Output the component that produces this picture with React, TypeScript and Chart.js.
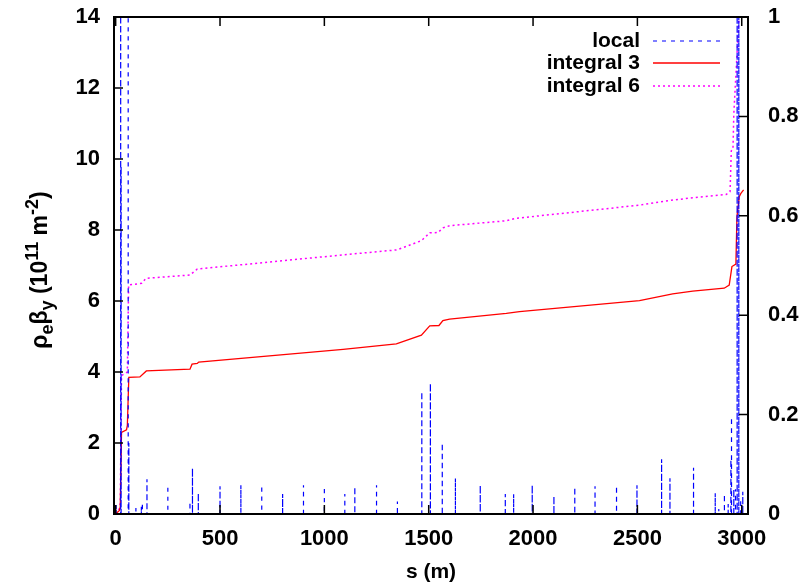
import React, { useEffect, useRef } from "react";
import { Chart, registerables } from "chart.js";

Chart.register(...registerables);

// ---- data ----
const xTicks = [0, 500, 1000, 1500, 2000, 2500, 3000];
const yTicks = [0, 2, 4, 6, 8, 10, 12, 14];
const y2Ticks = [0, 0.2, 0.4, 0.6, 0.8, 1];

// local (right axis), impulses
const localS = [2, 24, 26, 60, 63, 97, 123, 128, 150, 250, 356, 368, 396, 500, 600, 700, 800, 900, 1000, 1098, 1146, 1250, 1350, 1467, 1508, 1565, 1628, 1747, 1867, 1907, 1996, 2100, 2200, 2297, 2400, 2498, 2616, 2656, 2769, 2873, 2890, 2917, 2935, 2948, 2951, 2962, 2970, 2978, 2986, 2995, 3005];
const localV = [0.018, 1.6, 0.7, 1.6, 0.143, 0.012, 0.015, 0.023, 0.07, 0.058, 0.025, 0.092, 0.042, 0.056, 0.058, 0.058, 0.04, 0.058, 0.055, 0.04, 0.055, 0.058, 0.025, 0.246, 0.263, 0.143, 0.072, 0.058, 0.04, 0.04, 0.058, 0.036, 0.054, 0.056, 0.057, 0.058, 0.11, 0.072, 0.093, 0.042, 0.01, 0.04, 0.02, 0.11, 0.195, 0.05, 0.05, 1.6, 1.6, 0.03, 0.045];

// integral 3 (left axis)
const int3S = [0, 18, 22, 28, 52, 56, 63, 116, 147, 356, 366, 391, 398, 1090, 1345, 1465, 1505, 1549, 1568, 1600, 1872, 1935, 2510, 2669, 2765, 2916, 2940, 2953, 2972, 2977, 2988, 2996, 3009];
const int3V = [0, 0.1, 0.2, 2.3, 2.37, 2.5, 3.85, 3.86, 4.03, 4.08, 4.22, 4.24, 4.28, 4.64, 4.79, 5.04, 5.3, 5.31, 5.45, 5.49, 5.65, 5.7, 6.01, 6.2, 6.28, 6.36, 6.45, 6.97, 7.04, 8.37, 8.94, 9.03, 9.13];

// integral 6 (left axis)
const int6S = [0, 18, 22, 28, 56, 62, 125, 146, 356, 391, 1090, 1348, 1465, 1505, 1545, 1568, 1600, 1872, 1920, 2510, 2653, 2765, 2925, 2944, 2950, 2958, 2962, 2975, 2986, 2995, 3009];
const int6V = [0, 0.15, 0.3, 3.9, 4.0, 6.45, 6.5, 6.64, 6.73, 6.9, 7.3, 7.44, 7.7, 7.92, 7.93, 8.06, 8.12, 8.26, 8.33, 8.7, 8.83, 8.91, 9.0, 9.08, 10.23, 10.28, 11.27, 12.7, 13.9, 14.8, 15.5];

const seriesNames = ["local", "integral 3", "integral 6"];

const FONT = "'Liberation Sans', Arial, Helvetica, sans-serif";
const BLUE = "#0000ff";
const RED = "#ff0000";
const MAGENTA = "#ff00ff";

const localDash = [4, 5];
const int6Dash = [2, 3];

const framePlugin = {
  id: "frame",
  afterDatasetsDraw(chart: any) {
    const { ctx, chartArea: a, scales } = chart;
    ctx.save();
    ctx.strokeStyle = "#000";
    ctx.lineWidth = 1.5;
    const L = 9;
    ctx.beginPath();
    for (const v of xTicks) {
      const px = scales.x.getPixelForValue(v);
      ctx.moveTo(px, a.bottom);
      ctx.lineTo(px, a.bottom - L);
      ctx.moveTo(px, a.top);
      ctx.lineTo(px, a.top + L);
    }
    for (const v of yTicks) {
      const py = scales.y.getPixelForValue(v);
      ctx.moveTo(a.left, py);
      ctx.lineTo(a.left + L, py);
    }
    for (const v of y2Ticks) {
      const py = scales.y2.getPixelForValue(v);
      ctx.moveTo(a.right, py);
      ctx.lineTo(a.right - L, py);
    }
    ctx.stroke();
    ctx.lineWidth = 2;
    ctx.strokeRect(a.left, a.top, a.right - a.left, a.bottom - a.top);
    ctx.restore();
  },
};

const textPlugin = {
  id: "texts",
  afterDraw(chart: any) {
    const { ctx, chartArea: a } = chart;
    ctx.save();
    // legend
    const styles = [
      { color: BLUE, dash: localDash, width: 1.2 },
      { color: RED, dash: [], width: 1.3 },
      { color: MAGENTA, dash: int6Dash, width: 1.5 },
    ];
    const rows = [41, 63, 86];
    ctx.font = `bold 21px ${FONT}`;
    ctx.fillStyle = "#000";
    ctx.textAlign = "right";
    ctx.textBaseline = "middle";
    seriesNames.forEach((n, i) => {
      ctx.fillText(n, 640, rows[i]);
      ctx.save();
      ctx.strokeStyle = styles[i].color;
      ctx.lineWidth = styles[i].width;
      ctx.setLineDash(styles[i].dash);
      ctx.beginPath();
      ctx.moveTo(653, rows[i]);
      ctx.lineTo(720, rows[i]);
      ctx.stroke();
      ctx.restore();
    });

    // x title
    ctx.textAlign = "center";
    ctx.fillText("s (m)", (a.left + a.right) / 2, 572);

    // y title with sub/superscripts
    const parts = [
      { t: "\u03c1", s: 1, dy: 0 },
      { t: "e", s: 0.8, dy: 6 },
      { t: "\u03b2", s: 1, dy: 0 },
      { t: "y", s: 0.8, dy: 6 },
      { t: " (10", s: 1, dy: 0 },
      { t: "11", s: 0.8, dy: -9 },
      { t: " m", s: 1, dy: 0 },
      { t: "-2", s: 0.8, dy: -9 },
      { t: ")", s: 1, dy: 0 },
    ];
    const base = 23;
    let total = 0;
    const widths = parts.map((p) => {
      ctx.font = `bold ${Math.round(base * p.s)}px ${FONT}`;
      const w = ctx.measureText(p.t).width;
      total += w;
      return w;
    });
    ctx.translate(40, 270);
    ctx.rotate(-Math.PI / 2);
    ctx.textAlign = "left";
    ctx.textBaseline = "alphabetic";
    let x = -total / 2;
    parts.forEach((p, i) => {
      ctx.font = `bold ${Math.round(base * p.s)}px ${FONT}`;
      ctx.fillText(p.t, x, 7 + p.dy);
      x += widths[i];
    });
    ctx.restore();
  },
};

const zeroPad = (s: any) => {
  s.paddingTop = 0;
  s.paddingBottom = 0;
  s.paddingLeft = 0;
  s.paddingRight = 0;
};

export default function App() {
  const ref = useRef<HTMLCanvasElement | null>(null);

  useEffect(() => {
    if (!ref.current) return;
    const localData: { x: number; y: number }[] = [];
    localS.forEach((s, i) => {
      localData.push({ x: s, y: 0 }, { x: s, y: localV[i] }, { x: s, y: 0 });
    });
    const int3Data = int3S.map((s, i) => ({ x: s, y: int3V[i] }));
    const int6Data = int6S.map((s, i) => ({ x: s, y: int6V[i] }));

    const tickFont = { family: FONT, size: 22, weight: "bold" as const };

    const chart = new Chart(ref.current, {
      type: "scatter",
      data: {
        datasets: [
          {
            label: seriesNames[0],
            data: localData,
            yAxisID: "y2",
            showLine: true,
            borderColor: BLUE,
            borderWidth: 1.2,
            borderDash: localDash,
            pointRadius: 0,
            tension: 0,
          },
          {
            label: seriesNames[1],
            data: int3Data,
            yAxisID: "y",
            showLine: true,
            borderColor: RED,
            borderWidth: 1.3,
            pointRadius: 0,
            tension: 0,
          },
          {
            label: seriesNames[2],
            data: int6Data,
            yAxisID: "y",
            showLine: true,
            borderColor: MAGENTA,
            borderWidth: 1.5,
            borderDash: int6Dash,
            pointRadius: 0,
            tension: 0,
          },
        ],
      },
      options: {
        responsive: false,
        animation: false,
        events: [],
        layout: { padding: { top: 17, left: 0, right: 0, bottom: 0 } },
        plugins: {
          legend: { display: false },
          tooltip: { enabled: false },
          title: { display: false },
        },
        scales: {
          x: {
            type: "linear",
            position: "bottom",
            min: -8,
            max: 3030,
            grid: { display: false, drawTicks: false },
            border: { display: false },
            afterBuildTicks: (s: any) => {
              s.ticks = xTicks.map((v) => ({ value: v }));
            },
            afterFit: (s: any) => {
              s.height = 73;
              zeroPad(s);
            },
            ticks: {
              autoSkip: false,
              maxRotation: 0,
              padding: 12,
              color: "#000",
              font: tickFont,
              callback: (v: any) => String(v),
            },
          },
          y: {
            type: "linear",
            position: "left",
            min: 0,
            max: 14,
            grid: { display: false, drawTicks: false },
            border: { display: false },
            afterBuildTicks: (s: any) => {
              s.ticks = yTicks.map((v) => ({ value: v }));
            },
            afterFit: (s: any) => {
              s.width = 114;
              zeroPad(s);
            },
            ticks: {
              autoSkip: false,
              padding: 14,
              color: "#000",
              font: tickFont,
              callback: (v: any) => String(v),
            },
          },
          y2: {
            type: "linear",
            position: "right",
            min: 0,
            max: 1,
            grid: { display: false, drawTicks: false },
            border: { display: false },
            afterBuildTicks: (s: any) => {
              s.ticks = y2Ticks.map((v) => ({ value: v }));
            },
            afterFit: (s: any) => {
              s.width = 55;
              zeroPad(s);
            },
            ticks: {
              autoSkip: false,
              padding: 20,
              color: "#000",
              font: tickFont,
              callback: (v: any) => String(v),
            },
          },
        },
      },
      plugins: [framePlugin, textPlugin],
    });
    return () => chart.destroy();
  }, []);

  return (
    <div style={{ position: "fixed", left: 0, top: 0, width: 803, height: 587, background: "#fff" }}>
      <canvas ref={ref} width={803} height={587} style={{ width: 803, height: 587, display: "block" }} />
    </div>
  );
}
